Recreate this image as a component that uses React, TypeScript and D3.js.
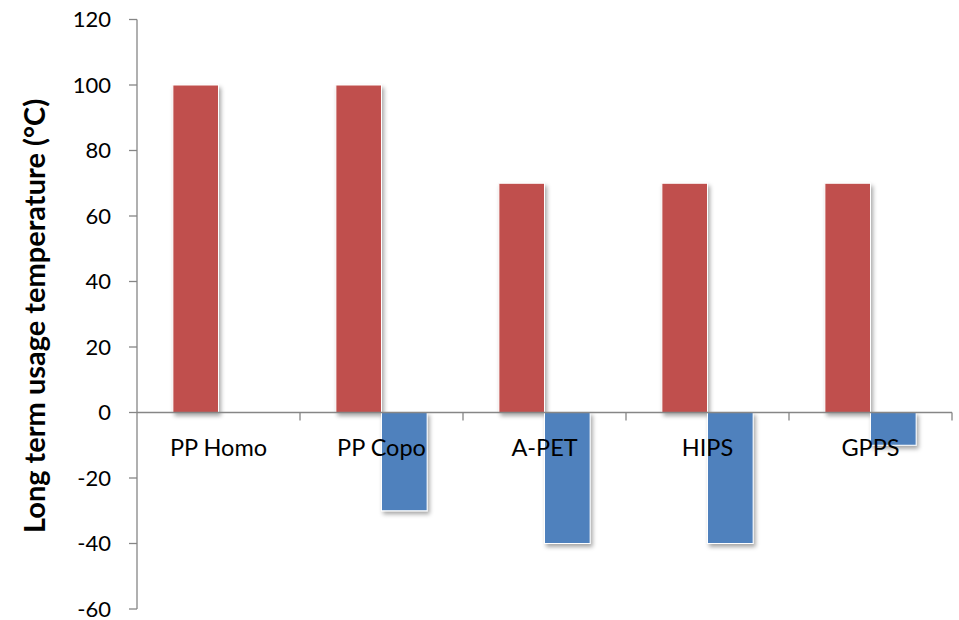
import React from "react";
import * as d3 from "d3";

const categories = ["PP Homo", "PP Copo", "A-PET", "HIPS", "GPPS"];
const upperValues = [100, 100, 70, 70, 70];
const lowerValues = [0, -30, -40, -40, -10];
const yTicks = [-60, -40, -20, 0, 20, 40, 60, 80, 100, 120];

const W = 959, H = 620;
const M = { left: 137, right: 7, top: 19.5, bottom: 11 };

export default function App() {
  const x = d3.scaleBand().domain(categories).range([M.left, W - M.right]).paddingInner(0).paddingOuter(0);
  const y = d3.scaleLinear().domain([-60, 120]).range([H - M.bottom, M.top]);
  const bw = x.bandwidth();
  const barW = bw * 0.28;
  const font = "Lato, 'Open Sans', sans-serif";
  const y0 = y(0);
  return (
    <svg width={W} height={H} style={{ position: "absolute", left: 0, top: 0, background: "#fff" }}>
      <defs>
        <filter id="sh" x="-30%" y="-30%" width="170%" height="170%">
          <feDropShadow dx="2" dy="3" stdDeviation="2" floodColor="#000" floodOpacity="0.35" />
        </filter>
      </defs>
      {categories.map((c, i) => {
        const cx = (x(c) as number) + bw / 2;
        const up = upperValues[i];
        const lo = lowerValues[i];
        return (
          <g key={c}>
            {up !== 0 && (
              <rect x={cx - barW} y={y(up)} width={barW} height={y0 - y(up)} fill="#C0504D" stroke="#fff" strokeWidth={1} filter="url(#sh)" />
            )}
            {lo !== 0 && (
              <rect x={cx} y={y0} width={barW} height={y(lo) - y0} fill="#4F81BD" stroke="#fff" strokeWidth={1} filter="url(#sh)" />
            )}
          </g>
        );
      })}
      {/* y axis */}
      <line x1={M.left} x2={M.left} y1={y(120)} y2={y(-60)} stroke="#868686" strokeWidth={1.3} />
      {yTicks.map((t) => (
        <g key={t}>
          <line x1={M.left - 8} x2={M.left} y1={y(t)} y2={y(t)} stroke="#868686" strokeWidth={1.3} />
          <text x={111} y={y(t)} dy="0.36em" textAnchor="end" fontFamily={font} fontSize={22} fill="#000">{t}</text>
        </g>
      ))}
      {/* x axis */}
      <line x1={M.left} x2={W - M.right} y1={y0} y2={y0} stroke="#868686" strokeWidth={1.3} />
      {categories.map((c) => (
        <line key={"t" + c} x1={(x(c) as number) + bw} x2={(x(c) as number) + bw} y1={y0} y2={y0 + 8} stroke="#868686" strokeWidth={1.3} />
      ))}
      {categories.map((c) => (
        <text key={"l" + c} x={(x(c) as number) + bw / 2} y={456} textAnchor="middle" fontFamily={font} fontSize={23.5} fill="#000">{c}</text>
      ))}
      <text transform={`translate(45, ${316}) rotate(-90)`} textAnchor="middle" fontFamily={font} fontSize={29} fontWeight="bold" fill="#000">
        Long term usage temperature (°C)
      </text>
    </svg>
  );
}
